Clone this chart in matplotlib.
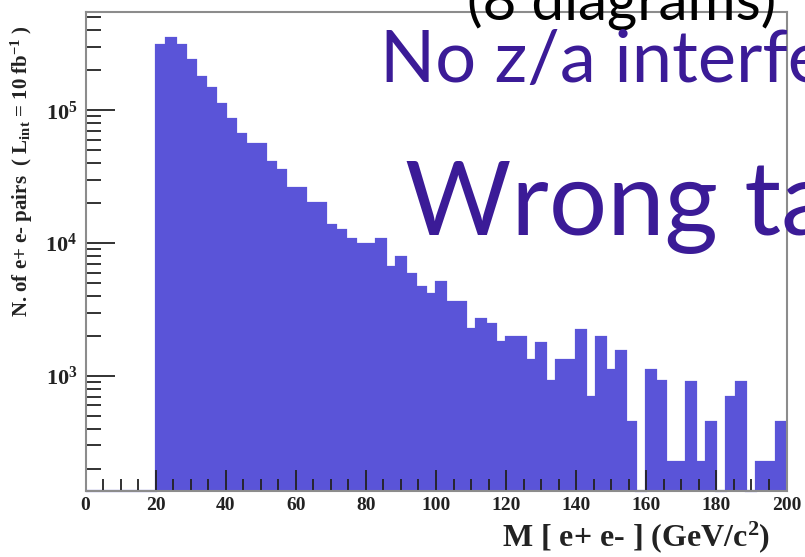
import matplotlib
matplotlib.use("Agg")
import matplotlib.pyplot as plt
from matplotlib.ticker import FixedLocator, LogLocator, NullFormatter, FuncFormatter
import numpy as np

# histogram: 70 bins from 0 to 200 GeV, first 7 bins (0-20) empty
n_bins = 70
m_lo, m_hi = 0.0, 200.0
counts = [0, 0, 0, 0, 0, 0, 0,
          3.12e5, 3.50e5, 3.12e5, 2.38e5, 1.78e5, 1.48e5, 1.12e5, 8.67e4,
          6.68e4, 5.62e4, 5.62e4, 4.08e4, 3.54e4, 2.58e4, 2.58e4, 2.01e4,
          2.01e4, 1.36e4, 1.25e4, 1.08e4, 9.78e3, 9.78e3, 1.08e4, 6.64e3,
          7.89e3, 5.85e3, 4.67e3, 4.11e3, 5.12e3, 3.62e3, 3.62e3, 2.24e3,
          2.67e3, 2.45e3, 1.80e3, 1.97e3, 1.97e3, 1.32e3, 1.76e3, 922,
          1.32e3, 1.32e3, 2.22e3, 692, 1.97e3, 1.11e3, 1.54e3, 453,
          0, 1.10e3, 913, 223, 223, 906, 223, 453,
          0, 695, 906, 0, 223, 223, 453]

y_min, y_max = 136, 5.5e5
x_ticks = [0, 20, 40, 60, 80, 100, 120, 140, 160, 180, 200]

plt.rcParams['mathtext.fontset'] = 'custom'
plt.rcParams['mathtext.rm'] = 'Liberation Serif:bold'
plt.rcParams['mathtext.it'] = 'Liberation Serif:bold'
plt.rcParams['mathtext.bf'] = 'Liberation Serif:bold'

fill_col = '#5a54d8'
slide_col = '#3b1b97'
frame_col = '#8c8c8c'

fig = plt.figure(figsize=(8.05, 5.57), dpi=100)
W, H = 805, 557
ax = fig.add_axes([85.5 / W, 1 - 491 / H, 701 / W, 479 / H])

edges = np.linspace(m_lo, m_hi, n_bins + 1)
vals = np.maximum(np.array(counts, dtype=float), y_min)
ax.stairs(vals, edges, fill=True, color=fill_col, baseline=y_min, linewidth=0)
ax.stairs(vals, edges, color=fill_col, baseline=None, linewidth=1.6, clip_on=False)

ax.set_yscale('log')
ax.set_xlim(m_lo, m_hi)
ax.set_ylim(y_min, y_max)

ax.xaxis.set_major_locator(FixedLocator(x_ticks))
ax.xaxis.set_minor_locator(FixedLocator(np.arange(0, 201, 5)))
ax.yaxis.set_major_locator(LogLocator(base=10, numticks=10))
ax.yaxis.set_minor_locator(LogLocator(base=10, subs=np.arange(2, 10), numticks=20))
ax.yaxis.set_minor_formatter(NullFormatter())
ax.yaxis.set_major_formatter(FuncFormatter(lambda v, p: r'$\mathbf{10^{%d}}$' % round(np.log10(v))))

ax.tick_params(axis='both', which='both', direction='in', colors='#222222',
               top=False, right=False, width=1.3)
ax.tick_params(axis='y', which='major', length=21, labelsize=16, pad=6)
ax.tick_params(axis='y', which='minor', length=11)
ax.tick_params(axis='x', which='major', length=15, labelsize=14, pad=4)
ax.tick_params(axis='x', which='minor', length=9)
for lab in ax.get_xticklabels() + ax.get_yticklabels():
    lab.set_fontfamily('Liberation Serif')
    lab.set_fontweight('bold')
    lab.set_color('#222222')

for sp in ax.spines.values():
    sp.set_color(frame_col)
    sp.set_linewidth(1.5)

fig.text(22 / W, 1 - 171 / H, r"N. of e+ e- pairs  ( L$_{int}$ = 10 fb$^{-1}$ )",
         rotation=90, ha='center', va='center', fontsize=15,
         family='Liberation Serif', weight='bold', color='#222222')
fig.text(770 / W, 1 - 546 / H, r"M [ e+ e- ] (GeV/c$^{2}$)", ha='right', va='baseline',
         fontsize=23, family='Liberation Serif', weight='bold', color='#222222')

# slide text overlaid on the plot
fig.text(467 / W, 1 - 20 / H, "(8 diagrams)", ha='left', va='baseline',
         fontsize=42, family='Lato', color='black')
fig.text(380 / W, 1 - 82 / H, "No z/a interfe", ha='left', va='baseline',
         fontsize=52, family='Lato', color=slide_col)
fig.text(405 / W, 1 - 235 / H, "Wrong ta", ha='left', va='baseline',
         fontsize=74, family='Lato', color=slide_col)

fig.savefig('out.png', dpi=100)
